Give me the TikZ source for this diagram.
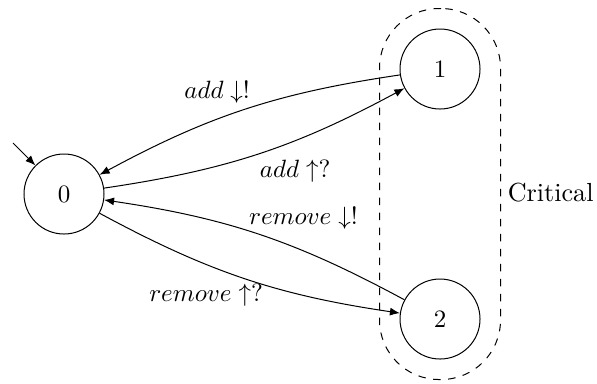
\documentclass[tikz,border=0pt]{standalone}
\usetikzlibrary{arrows.meta,fit}
\begin{document}
\begin{tikzpicture}[x=0.4pt,y=-0.4pt,>={Latex[length=4pt,width=3.2pt]},
  every node/.style={font=\fontsize{10.45pt}{12.5pt}\selectfont},
  state/.style={circle,draw,minimum size=32pt,inner sep=0pt},
  trans/.style={->,bend right=10},
  group/.style={draw,dashed,rounded corners=23.8pt,inner sep=8pt}]
  \useasboundingbox (0,0) rectangle (597,383);
  % states
  \node[state] (s0) at (64,194) {$0$};
  \node[state] (s1) at (440,69) {$1$};
  \node[state] (s2) at (440,319) {$2$};
  % initial marker
  \coordinate (init) at (13,143);
  \draw[->] (init) -- (s0.135);
  % critical region
  \node[group,fit=(s1)(s2)] (crit) {};
  \node[anchor=west] (critlabel) at (499,193) {Critical};
  % transitions
  \draw[trans] (s1) to node[pos=0.6,above=3pt] {$add\downarrow!$} (s0);
  \draw[trans] (s0) to node[pos=0.63,below=4.5pt] {$add\uparrow?$} (s1);
  \draw[trans] (s2) to node[pos=0.34,above=5pt] {$remove\downarrow!$} (s0);
  \draw[trans] (s0) to node[pos=0.36,below=4.5pt] {$remove\uparrow?$} (s2);
\end{tikzpicture}
\end{document}
